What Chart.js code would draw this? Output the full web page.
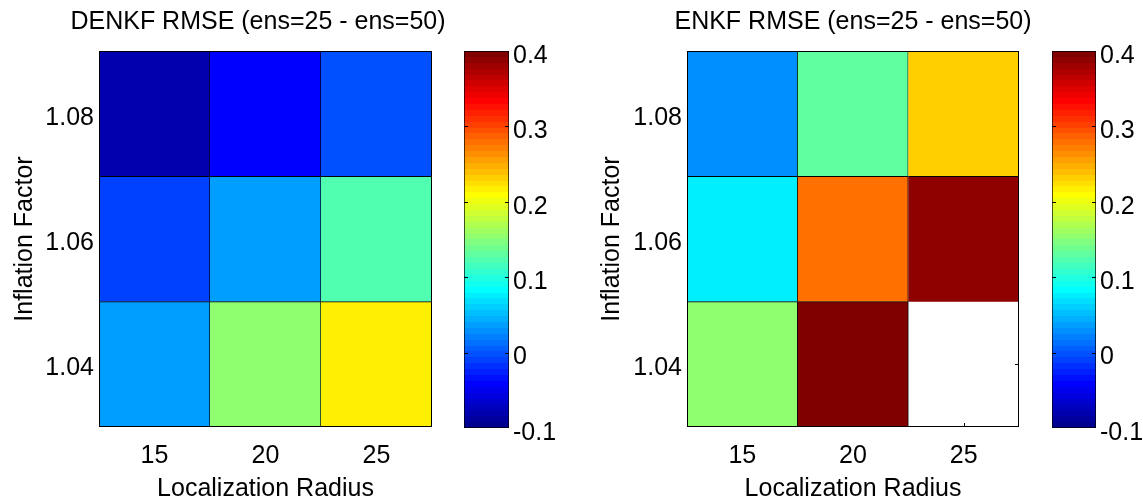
<!DOCTYPE html>
<html>
<head>
<meta charset="utf-8">
<script src="https://cdn.jsdelivr.net/npm/chart.js@4/dist/chart.umd.min.js"></script>
<style>
  html, body { margin: 0; padding: 0; background: #fff; overflow: hidden; }
  canvas { position: absolute; top: 0; }
</style>
</head>
<body>
<canvas id="denkf" width="516" height="502" style="left:0px"></canvas>
<canvas id="denkfBar" width="110" height="502" style="left:450px"></canvas>
<canvas id="enkf" width="546" height="502" style="left:580px"></canvas>
<canvas id="enkfBar" width="103" height="502" style="left:1040px"></canvas>
<script>
const radii = ['15', '20', '25'];
const inflation = [1.04, 1.06, 1.08];
const inflationLabels = ['1.04', '1.06', '1.08'];

// RMSE(ens=25) - RMSE(ens=50), one array per inflation factor, columns follow radii
const denkfRow104 = [0.037, 0.154, 0.216];
const denkfRow106 = [-0.010, 0.037, 0.123];
const denkfRow108 = [-0.080, -0.041, -0.006];
const enkfRow104 = [0.154, 0.43, null];   // null = no value (white cell)
const enkfRow106 = [0.076, 0.279, 0.388];
const enkfRow108 = [0.029, 0.130, 0.232];

const cMin = -0.1, cMax = 0.4;
const cbTicks = [-0.1, 0, 0.1, 0.2, 0.3, 0.4];
const cbTickLabels = ['-0.1', '0', '0.1', '0.2', '0.3', '0.4'];

Chart.defaults.font.family = '"Liberation Sans", Arial, sans-serif';
Chart.defaults.font.size = 25;
Chart.defaults.color = '#000';

// matlab jet(64)
function jetIndex(i) {
    const cl = x => Math.round(255 * Math.min(1, Math.max(0, x)));
    const r = cl(Math.min((i - 24) / 16, (72 - i) / 16));
    const g = cl(Math.min((i - 8) / 16, (56 - i) / 16));
    const b = cl(Math.min((i + 8) / 16, (40 - i) / 16));
    return `rgb(${r},${g},${b})`;
}
function jetColor(v) {
    if (v == null) return 'rgba(0,0,0,0)';
    let i = Math.floor((v - cMin) / (cMax - cMin) * 64) + 1;
    return jetIndex(Math.min(64, Math.max(1, i)));
}

const tickLen = 4;

const framePlugin = {
    id: 'frame',
    beforeDatasetsDraw(chart) {
        // inward ticks, hidden under the cells like matlab's bottom layer
        const {ctx, chartArea: a, scales} = chart;
        ctx.save();
        ctx.strokeStyle = '#000';
        ctx.lineWidth = 1;
        ctx.beginPath();
        radii.forEach((r, i) => {
            const x = Math.round(scales.x.getPixelForTick(i)) + 0.5;
            ctx.moveTo(x, a.bottom); ctx.lineTo(x, a.bottom - tickLen);
            ctx.moveTo(x, a.top); ctx.lineTo(x, a.top + tickLen);
        });
        inflation.forEach(v => {
            const y = Math.round(scales.y.getPixelForValue(v)) + 0.5;
            ctx.moveTo(a.left, y); ctx.lineTo(a.left + tickLen, y);
            ctx.moveTo(a.right, y); ctx.lineTo(a.right - tickLen, y);
        });
        ctx.stroke();
        ctx.restore();
    },
    afterDatasetsDraw(chart) {
        const {ctx, chartArea: a} = chart;
        ctx.save();
        ctx.strokeStyle = '#000';
        ctx.lineWidth = 1;
        ctx.strokeRect(a.left + 0.5, a.top + 0.5, a.width - 1, a.height - 1);
        ctx.restore();
    }
};

function heatmap(id, title, rows, yWidth, rightWidth, yTitlePad) {
    const half = (inflation[1] - inflation[0]) / 2;
    new Chart(document.getElementById(id), {
        type: 'bar',
        data: {
            labels: radii,
            datasets: rows.map((row, r) => ({
                data: row.map(v => v == null ? null : [inflation[r] - half, inflation[r] + half]),
                backgroundColor: row.map(jetColor),
                borderColor: '#000',
                borderWidth: {top: 1, right: 1, bottom: 0, left: 0},
                borderSkipped: false,
                barPercentage: 1,
                categoryPercentage: 1,
                grouped: false
            }))
        },
        options: {
            responsive: false,
            animation: false,
            devicePixelRatio: 1,
            layout: {padding: 0},
            plugins: {
                legend: {display: false},
                tooltip: {enabled: false},
                title: {
                    display: true,
                    text: title,
                    font: {size: 25, weight: 'normal', lineHeight: 1.2},
                    color: '#000',
                    padding: {top: 7, bottom: 14}
                }
            },
            scales: {
                x: {
                    grid: {display: false, drawTicks: false},
                    border: {display: false},
                    ticks: {padding: 14, maxRotation: 0},
                    title: {display: true, text: 'Localization Radius',
                            font: {size: 25, lineHeight: 1}, padding: {top: 0, bottom: 0}},
                    afterFit(s) { s.height = 75; }
                },
                y: {
                    min: inflation[0] - half,
                    max: inflation[inflation.length - 1] + half,
                    afterBuildTicks(s) { s.ticks = inflation.map(v => ({value: v})); },
                    grid: {display: false, drawTicks: false},
                    border: {display: false},
                    ticks: {padding: 5, labelOffset: 4, callback: (v, i) => inflationLabels[i]},
                    title: {display: true, text: 'Inflation Factor',
                            font: {size: 25, lineHeight: 1.2}, padding: {top: yTitlePad, bottom: 0}},
                    afterFit(s) { s.width = yWidth; }
                },
                yRight: {
                    type: 'linear',
                    position: 'right',
                    grid: {display: false, drawTicks: false},
                    border: {display: false},
                    ticks: {display: false},
                    afterFit(s) { s.width = rightWidth; }
                }
            }
        },
        plugins: [framePlugin]
    });
}

const cbPlugin = {
    id: 'cbTicks',
    afterDatasetsDraw(chart) {
        const {ctx, chartArea: a, scales} = chart;
        ctx.save();
        ctx.strokeStyle = '#000';
        ctx.lineWidth = 1;
        ctx.beginPath();
        // inner ticks only, the ends sit on the border
        cbTicks.slice(1, -1).forEach(v => {
            const y = Math.round(scales.y.getPixelForValue(v)) + 0.5;
            ctx.moveTo(a.left, y); ctx.lineTo(a.left + tickLen, y);
            ctx.moveTo(a.right, y); ctx.lineTo(a.right - tickLen, y);
        });
        ctx.stroke();
        ctx.restore();
    }
};

function colorbar(id, padLeft, axisWidth) {
    let grad = null;
    new Chart(document.getElementById(id), {
        type: 'bar',
        data: {
            labels: [''],
            datasets: [{
                data: [[cMin, cMax]],
                backgroundColor(c) {
                    const a = c.chart.chartArea;
                    if (!a) return '#fff';
                    if (!grad) {
                        grad = c.chart.ctx.createLinearGradient(0, a.bottom, 0, a.top);
                        for (let k = 0; k < 64; k++) {
                            const col = jetIndex(k + 1);
                            grad.addColorStop(k / 64, col);
                            grad.addColorStop((k + 1) / 64, col);
                        }
                    }
                    return grad;
                },
                borderColor: '#000',
                borderWidth: 1,
                borderSkipped: false,
                barPercentage: 1,
                categoryPercentage: 1
            }]
        },
        options: {
            responsive: false,
            animation: false,
            devicePixelRatio: 1,
            layout: {padding: {left: padLeft, top: 51, bottom: 74, right: 0}},
            plugins: {legend: {display: false}, tooltip: {enabled: false}},
            scales: {
                x: {display: false},
                y: {
                    position: 'right',
                    min: cMin,
                    max: cMax,
                    afterBuildTicks(s) { s.ticks = cbTicks.map(v => ({value: v})); },
                    grid: {display: false, drawTicks: false},
                    border: {display: false},
                    ticks: {padding: 4, labelOffset: 5, callback: (v, i) => cbTickLabels[i]},
                    afterFit(s) { s.width = axisWidth; }
                }
            }
        },
        plugins: [cbPlugin]
    });
}

heatmap('denkf', 'DENKF RMSE (ens=25 - ens=50)', [denkfRow104, denkfRow106, denkfRow108], 99, 84, 10.5);
colorbar('denkfBar', 14, 51);
heatmap('enkf', 'ENKF RMSE (ens=25 - ens=50)', [enkfRow104, enkfRow106, enkfRow108], 107, 107, 17.5);
colorbar('enkfBar', 12, 47);
</script>
</body>
</html>
